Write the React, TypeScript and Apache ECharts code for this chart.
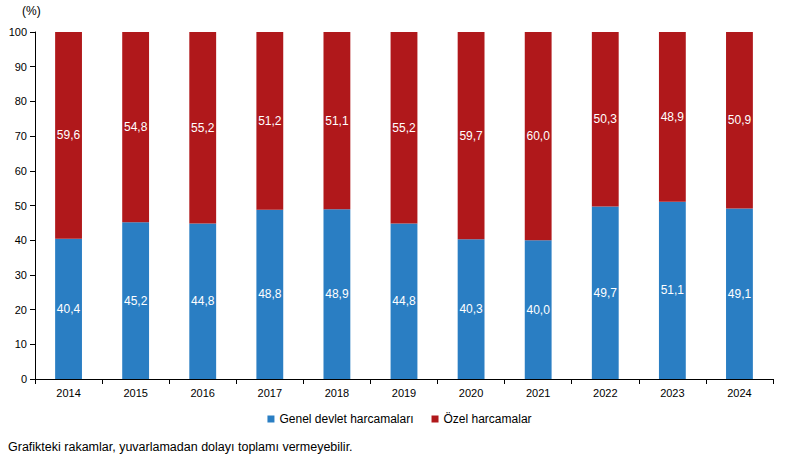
import React, { useEffect, useRef } from "react";
import * as echarts from "echarts";

const years = ["2014", "2015", "2016", "2017", "2018", "2019", "2020", "2021", "2022", "2023", "2024"];
const genel = [40.4, 45.2, 44.8, 48.8, 48.9, 44.8, 40.3, 40.0, 49.7, 51.1, 49.1];
const ozel = [59.6, 54.8, 55.2, 51.2, 51.1, 55.2, 59.7, 60.0, 50.3, 48.9, 50.9];
const seriesNames = ["Genel devlet harcamaları", "Özel harcamalar"];
const unitLabel = "(%)";
const footnote = "Grafikteki rakamlar, yuvarlamadan dolayı toplamı vermeyebilir.";

const FONT = "'Liberation Sans', Arial, sans-serif";

export default function App() {
  const ref = useRef<HTMLDivElement>(null);
  useEffect(() => {
    if (!ref.current) return;
    const chart = echarts.init(ref.current, null, { renderer: "svg" });
    const fmt = (p: any) => Number(p.value).toFixed(1).replace(".", ",");
    chart.setOption({
      animation: false,
      backgroundColor: "#ffffff",
      textStyle: { fontFamily: FONT },
      grid: { left: 35, right: 26, top: 32, bottom: 80 },
      legend: {
        bottom: 29,
        left: "center",
        icon: "rect",
        itemWidth: 7,
        itemHeight: 7,
        itemGap: 18,
        textStyle: { fontFamily: FONT, fontSize: 12, color: "#000" },
        data: seriesNames,
      },
      xAxis: {
        type: "category",
        data: years,
        axisLine: { lineStyle: { color: "#000", width: 1 } },
        axisTick: { show: true, length: 5, lineStyle: { color: "#000" } },
        axisLabel: { color: "#000", fontSize: 11, fontFamily: FONT, margin: 8 },
      },
      yAxis: {
        type: "value",
        min: 0,
        max: 100,
        interval: 10,
        splitLine: { show: false },
        axisLine: { show: true, lineStyle: { color: "#000", width: 1 } },
        axisTick: { show: true, length: 5, lineStyle: { color: "#000" } },
        axisLabel: { color: "#000", fontSize: 11, fontFamily: FONT, margin: 8 },
      },
      graphic: [
        {
          type: "text",
          left: 22,
          top: 5,
          style: { text: unitLabel, fontSize: 12, fontFamily: FONT, fill: "#000" },
        },
        {
          type: "text",
          left: 8,
          top: 440,
          style: { text: footnote, fontSize: 12.5, fontFamily: FONT, fill: "#000" },
        },
      ],
      series: [
        {
          name: seriesNames[0],
          type: "bar",
          stack: "total",
          barWidth: "40%",
          data: genel,
          itemStyle: { color: "#2A7EC3" },
          label: { show: true, position: "inside", color: "#fff", fontSize: 12, fontFamily: FONT, formatter: fmt },
        },
        {
          name: seriesNames[1],
          type: "bar",
          stack: "total",
          barWidth: "40%",
          data: ozel,
          itemStyle: { color: "#B0181B" },
          label: { show: true, position: "inside", color: "#fff", fontSize: 12, fontFamily: FONT, formatter: fmt },
        },
      ],
    });
    return () => chart.dispose();
  }, []);
  return <div ref={ref} style={{ position: "fixed", left: 0, top: 0, width: 799, height: 459 }} />;
}
